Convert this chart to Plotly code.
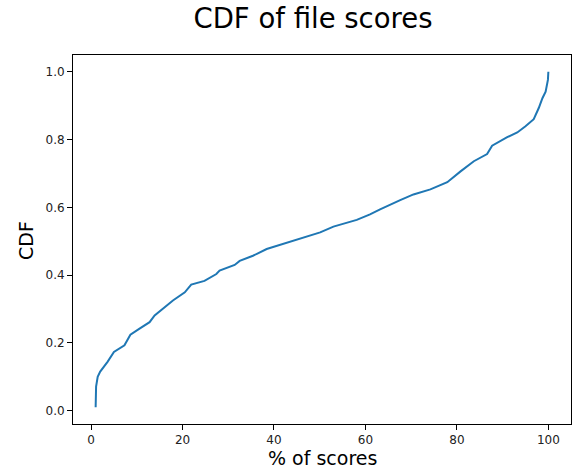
import plotly.graph_objects as go

score_pct = [1.0, 1.0, 1.1, 1.45, 2.0, 3.6, 5.0, 7.3, 8.6, 10.6, 12.8, 13.9, 16.1, 17.9,
             20.5, 21.9, 24.8, 27.4, 28.1, 31.4, 32.5, 35.4, 38.4, 42.8, 47.1, 50.1,
             53.0, 58.1, 61.0, 63.2, 67.6, 70.5, 74.2, 77.9, 80.8, 83.7, 86.6, 87.7,
             91.0, 93.2, 95.0, 96.8, 97.9, 98.7, 99.4, 99.9, 100.0]
cdf = [0.01, 0.05, 0.071, 0.10, 0.115, 0.144, 0.173, 0.193, 0.224, 0.242, 0.261, 0.281,
       0.305, 0.325, 0.349, 0.372, 0.383, 0.403, 0.413, 0.43, 0.442, 0.457, 0.477, 0.496,
       0.514, 0.526, 0.543, 0.563, 0.579, 0.594, 0.621, 0.638, 0.653, 0.674, 0.706, 0.736,
       0.757, 0.782, 0.807, 0.821, 0.839, 0.860, 0.893, 0.922, 0.941, 0.976, 1.0]
x_ticks = [0, 20, 40, 60, 80, 100]
y_ticks = [0.0, 0.2, 0.4, 0.6, 0.8, 1.0]
y_tick_labels = ["0.0", "0.2", "0.4", "0.6", "0.8", "1.0"]

W, H = 575, 472
L, R, T, B = 73, 4, 55, 48
pw, ph = W - L - R, H - T - B

fig = go.Figure()
fig.add_trace(go.Scatter(x=score_pct, y=cdf, mode="lines",
                         line=dict(color="#1f77b4", width=2), showlegend=False))

font = "DejaVu Sans, Liberation Sans, sans-serif"
axis_common = dict(showline=True, linecolor="black", linewidth=1, mirror=True,
                   ticks="outside", ticklen=5, tickcolor="black", tickwidth=1,
                   showgrid=False, zeroline=False, automargin=False,
                   tickfont=dict(family=font, size=12, color="#222"))
fig.update_layout(
    width=W, height=H,
    margin=dict(l=L, r=R, t=T, b=B, autoexpand=False),
    paper_bgcolor="white", plot_bgcolor="white",
    title=dict(text="CDF of file scores", x=313 / W, xanchor="center",
               y=1 - 18 / H, yanchor="middle",
               font=dict(family=font, size=27.5, color="black")),
    xaxis=dict(range=[-3.95, 104.95], tickvals=x_ticks, **axis_common),
    yaxis=dict(range=[-0.0395, 1.0495], tickvals=y_ticks, ticktext=y_tick_labels,
               **axis_common),
    annotations=[
        dict(text="% of scores", xref="paper", yref="paper",
             x=(322 - L) / pw, y=-(458 - (H - B)) / ph, xanchor="center", yanchor="middle",
             showarrow=False, font=dict(family=font, size=19, color="black")),
        dict(text="CDF", xref="paper", yref="paper", textangle=-90,
             x=(26 - L) / pw, y=(H - B - 241) / ph, xanchor="center", yanchor="middle",
             showarrow=False, font=dict(family=font, size=19, color="black")),
    ],
)
fig.write_html("out.html", config={"displayModeBar": False},
               post_script="document.body.style.margin='0';document.body.style.overflow='hidden';")
